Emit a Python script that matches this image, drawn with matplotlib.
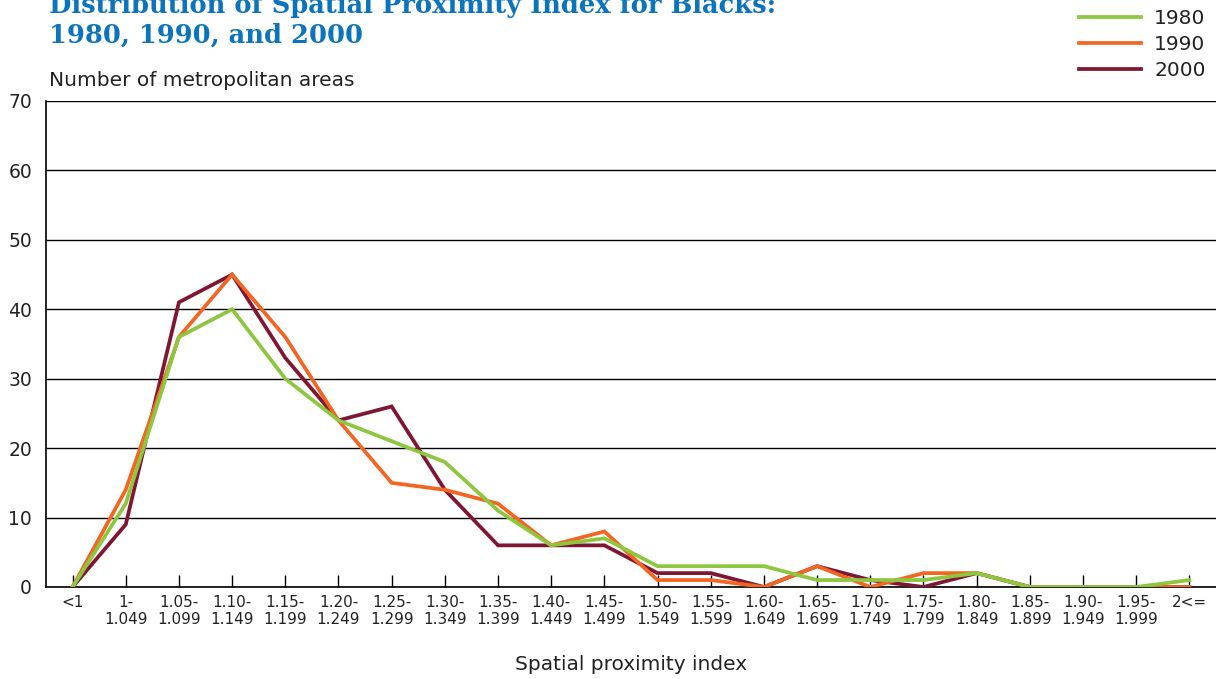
import matplotlib
matplotlib.use("Agg")
import matplotlib.pyplot as plt

categories = ["<1", "1-\n1.049", "1.05-\n1.099", "1.10-\n1.149", "1.15-\n1.199", "1.20-\n1.249",
              "1.25-\n1.299", "1.30-\n1.349", "1.35-\n1.399", "1.40-\n1.449", "1.45-\n1.499",
              "1.50-\n1.549", "1.55-\n1.599", "1.60-\n1.649", "1.65-\n1.699", "1.70-\n1.749",
              "1.75-\n1.799", "1.80-\n1.849", "1.85-\n1.899", "1.90-\n1.949", "1.95-\n1.999", "2<="]
v1980 = [0, 12, 36, 40, 30, 24, 21, 18, 11, 6, 7, 3, 3, 3, 1, 1, 1, 2, 0, 0, 0, 1]
v1990 = [0, 14, 36, 45, 36, 24, 15, 14, 12, 6, 8, 1, 1, 0, 3, 0, 2, 2, 0, 0, 0, 0]
v2000 = [0, 9, 41, 45, 33, 24, 26, 14, 6, 6, 6, 2, 2, 0, 3, 1, 0, 2, 0, 0, 0, 0]
yticks = [0, 10, 20, 30, 40, 50, 60, 70]

plt.rcParams['font.family'] = ['DejaVu Sans']
fig = plt.figure(figsize=(12.16, 6.79), dpi=100)
ax = fig.add_axes([0.0378, 0.1355, 0.9622, 0.7158])

x = list(range(len(categories)))
l3, = ax.plot(x, v2000, color="#7F1734", lw=2.7, solid_joinstyle='miter', zorder=3)
l2, = ax.plot(x, v1990, color="#F26522", lw=2.7, solid_joinstyle='miter', zorder=4)
l1, = ax.plot(x, v1980, color="#8DC63F", lw=2.7, solid_joinstyle='miter', zorder=5)

ax.set_xlim(-0.5, 21.5)
ax.set_ylim(0, 70)
ax.set_yticks(yticks)
ax.set_yticklabels([str(t) for t in yticks], fontsize=13.5, color="#222222")
ax.set_xticks(x)
ax.set_xticklabels(categories, fontsize=11, color="#222222", linespacing=1.15)
ax.tick_params(axis='x', direction='in', length=9, width=1, color='black', pad=6)
ax.tick_params(axis='y', length=0, pad=10)
ax.grid(axis='y', color='black', lw=1)
ax.set_axisbelow(True)
for s in ['top', 'right']:
    ax.spines[s].set_visible(False)
for s in ['left', 'bottom']:
    ax.spines[s].set_color('black')
    ax.spines[s].set_linewidth(1.2)

fig.text(0.0403, 1 - 80 / 679, "Number of metropolitan areas", fontsize=14.5,
         color="#222222", va='center', ha='left')
fig.text(631 / 1216, 1 - 664 / 679, "Spatial proximity index", fontsize=14.5,
         color="#222222", va='center', ha='center')
fig.text(0.0403, 1 - 5 / 679, "Distribution of Spatial Proximity Index for Blacks:",
         fontsize=18.5, fontweight='bold', family='DejaVu Serif', color="#0B74BC",
         va='center', ha='left')
fig.text(0.0403, 1 - 35 / 679, "1980, 1990, and 2000",
         fontsize=18.5, fontweight='bold', family='DejaVu Serif', color="#0B74BC",
         va='center', ha='left')

fig.legend([l1, l2, l3], ["1980", "1990", "2000"], loc='upper right',
           bbox_to_anchor=(1.003, 1.007), frameon=False, fontsize=14.5, handlelength=3.1,
           handletextpad=0.65, labelspacing=0.33, borderaxespad=0.3, labelcolor="#222222")

fig.savefig("out.png", dpi=100)
